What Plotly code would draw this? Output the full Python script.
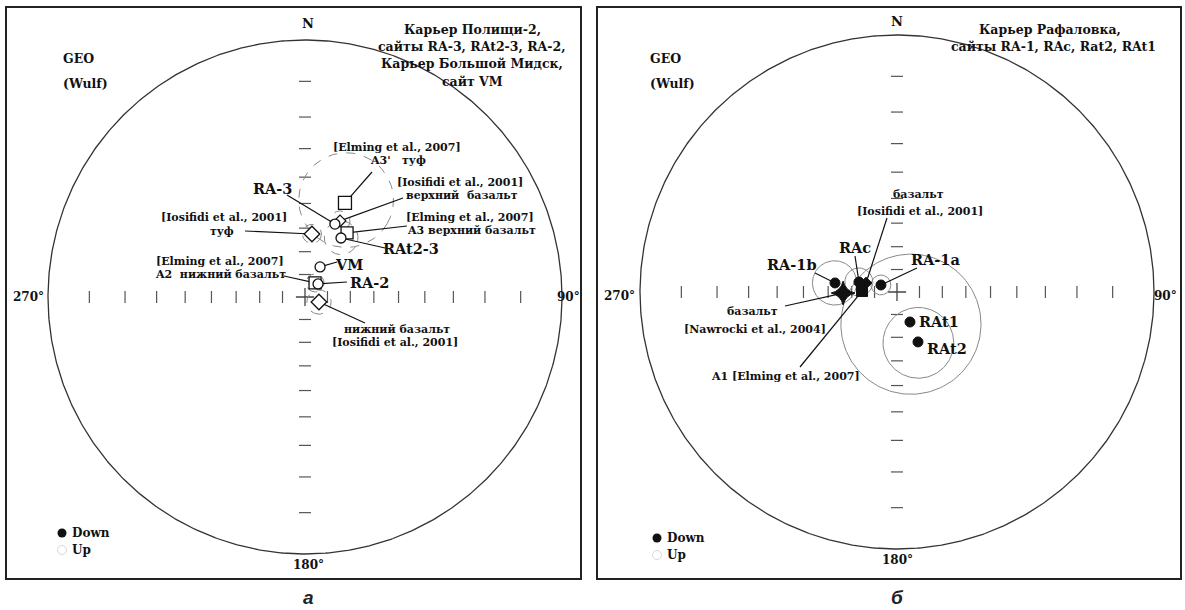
import numpy as np
import plotly.graph_objects as go

W, H = 1185, 610
R_PX = 257.0  # radius of the primitive circle in pixels

# ---------------- data: panel а (Полищи-2 / Большой Мидск); negative inc = upper hemisphere (open symbols)
names_a = ["A3' туф [Elming 2007]", "RA-3", "верхний базальт [Iosifidi 2001]",
           "A3 верхний базальт [Elming 2007]", "RAt2-3", "туф [Iosifidi 2001]",
           "VM", "A2 нижний базальт [Elming 2007]", "RA-2", "нижний базальт [Iosifidi 2001]"]
src_a = ["Elming", "site", "Iosifidi", "Elming", "site", "Iosifidi", "site", "Elming", "site", "Iosifidi"]
dec_a = [23.0, 22.3, 24.7, 33.3, 31.4, 6.3, 26.6, 35.5, 45.0, 109.7]
inc_a = [-46.6, -55.9, -53.9, -56.8, -59.9, -62.3, -75.1, -82.3, -81.8, -83.4]
a95_a = [18.0, 0.0, 4.0, 0.0, 7.0, 4.0, 0.0, 4.0, 0.0, 5.4]

# ---------------- data: panel б (Рафаловка); positive inc = lower hemisphere (filled symbols)
names_b = ["RA-1b", "базальт [Nawrocki 2004]", "RAc", "базальт [Iosifidi 2001]",
           "A1 [Elming 2007]", "RA-1a", "RAt1", "RAt2"]
src_b = ["site", "Nawrocki", "site", "Iosifidi", "Elming", "site", "site", "site"]
dec_b = [278.3, 268.9, 284.7, 286.2, 271.6, 293.6, 156.6, 157.2]
inc_b = [62.6, 66.3, 72.6, 75.7, 74.5, 82.2, 75.5, 66.2]
a95_b = [9.3, 0.0, 6.1, 0.0, 0.0, 4.4, 30.0, 15.0]

tick_incs = [10, 20, 30, 40, 50, 60, 70, 80]
legend_labels = ["Down", "Up"]

# ---------------- layout geometry (pixels in the 1185x610 picture)
PANELS = {
    "a": dict(frame=(7, 8, 580, 578), center=(305, 297), ax=("x", "y")),
    "b": dict(frame=(598, 8, 1180, 578), center=(897, 292), ax=("x2", "y2")),
}

FONT = "DejaVu Serif"


def to_u(panel, px, py):
    cx, cy = PANELS[panel]["center"]
    return (px - cx) / R_PX, (cy - py) / R_PX


def wulff(dec, inc):
    dec = np.radians(np.asarray(dec, float))
    inc = np.radians(np.abs(np.asarray(inc, float)))
    r = np.tan((np.pi / 2 - inc) / 2)
    return r * np.sin(dec), r * np.cos(dec)


def small_circle(dec, inc, alpha, n=181):
    d, i, a = np.radians(dec), np.radians(inc), np.radians(alpha)
    v = np.array([np.cos(i) * np.sin(d), np.cos(i) * np.cos(d), np.sin(i)])  # E, N, Down
    ref = np.array([0, 0, 1.0]) if abs(v[2]) < 0.9 else np.array([1.0, 0, 0])
    u1 = np.cross(v, ref); u1 /= np.linalg.norm(u1)
    u2 = np.cross(v, u1)
    t = np.linspace(0, 2 * np.pi, n)
    p = np.cos(a) * v[:, None] + np.sin(a) * (np.cos(t) * u1[:, None] + np.sin(t) * u2[:, None])
    s = 1.0 if inc >= 0 else -1.0
    den = 1 + s * p[2]
    return p[0] / den, p[1] / den


fig = go.Figure()

# ---------- axes for both panels
for key, P in PANELS.items():
    fx0, fy0, fx1, fy1 = P["frame"]
    cx, cy = P["center"]
    xa = dict(domain=[fx0 / W, fx1 / W], range=[(fx0 - cx) / R_PX, (fx1 - cx) / R_PX],
              showgrid=False, zeroline=False, showticklabels=False, ticks="",
              showline=True, mirror=True, linecolor="#222", linewidth=2, fixedrange=True)
    ya = dict(domain=[1 - fy1 / H, 1 - fy0 / H], range=[(cy - fy1) / R_PX, (cy - fy0) / R_PX],
              showgrid=False, zeroline=False, showticklabels=False, ticks="",
              showline=True, mirror=True, linecolor="#222", linewidth=2, fixedrange=True)
    if key == "a":
        fig.update_layout(xaxis=dict(xa, anchor="y"), yaxis=dict(ya, anchor="x"))
    else:
        fig.update_layout(xaxis2=dict(xa, anchor="y2"), yaxis2=dict(ya, anchor="x2"))

# ---------- primitive circle, ticks, centre cross
th = np.linspace(0, 2 * np.pi, 721)
tr = np.tan(np.radians(90 - np.array(tick_incs)) / 2)
h = 6 / R_PX
for key, P in PANELS.items():
    xn, yn = P["ax"]
    fig.add_trace(go.Scatter(x=np.cos(th), y=np.sin(th), mode="lines", xaxis=xn, yaxis=yn,
                             line=dict(color="#333", width=1.3), hoverinfo="skip", showlegend=False))
    tx, ty = [], []
    for r in tr:
        for sgn in (-1, 1):
            tx += [sgn * r, sgn * r, None]; ty += [-h, h, None]
            tx += [-h, h, None]; ty += [sgn * r, sgn * r, None]
    fig.add_trace(go.Scatter(x=tx, y=ty, mode="lines", xaxis=xn, yaxis=yn,
                             line=dict(color="#555", width=1.2), hoverinfo="skip", showlegend=False))
    fig.add_trace(go.Scatter(x=[0], y=[0], mode="markers", xaxis=xn, yaxis=yn,
                             marker=dict(symbol="cross-thin", size=13, line=dict(color="#444", width=1.3)),
                             hoverinfo="skip", showlegend=False))

# ---------- confidence circles
for dec, inc, a in zip(dec_a, inc_a, a95_a):
    if a > 0:
        cx_, cy_ = small_circle(dec, inc, a)
        fig.add_trace(go.Scatter(x=cx_, y=cy_, mode="lines", xaxis="x", yaxis="y",
                                 line=dict(color="#888", width=1, dash="dash"), hoverinfo="skip", showlegend=False))
for dec, inc, a in zip(dec_b, inc_b, a95_b):
    if a > 0:
        cx_, cy_ = small_circle(dec, inc, a)
        fig.add_trace(go.Scatter(x=cx_, y=cy_, mode="lines", xaxis="x2", yaxis="y2",
                                 line=dict(color="#888", width=1), hoverinfo="skip", showlegend=False))

xa_, ya_ = wulff(dec_a, inc_a)
xb_, yb_ = wulff(dec_b, inc_b)

# ---------- leader lines (start = label side, end = data point)
leaders_a = [(372, 172, 0), (403, 198, 2), (407, 226, 3), (287, 195, 1), (385, 248, 4),
             (245, 231, 5), (284, 276, 7), (337, 262, 6), (347, 282, 8), (365, 323, 9)]
leaders_b = [(887, 218, 3), (855, 256, 2), (815, 273, 0), (917, 268, 5), (785, 306, 1), (800, 367, 4)]
for panel, leaders, X, Y in (("a", leaders_a, xa_, ya_), ("b", leaders_b, xb_, yb_)):
    lx, ly = [], []
    for px, py, k in leaders:
        u, v = to_u(panel, px, py)
        lx += [u, X[k], None]; ly += [v, Y[k], None]
    xn, yn = PANELS[panel]["ax"]
    fig.add_trace(go.Scatter(x=lx, y=ly, mode="lines", xaxis=xn, yaxis=yn,
                             line=dict(color="#111", width=1.2), hoverinfo="skip", showlegend=False))

# ---------- data symbols (literature diamonds first, then squares, then sites on top)
open_sym = {"site": ("circle", 10), "Elming": ("square", 12), "Iosifidi": ("diamond", 12)}
fill_sym = {"site": ("circle", 10), "Elming": ("square", 11), "Iosifidi": ("diamond", 9),
            "Nawrocki": ("star-diamond", 17)}
draw_order = {"Iosifidi": 0, "Nawrocki": 1, "Elming": 2, "site": 3}
for k in sorted(range(len(names_a)), key=lambda i: draw_order[src_a[i]]):
    s, sz = open_sym[src_a[k]]
    if k == 0:
        sz = 13
    if k == 2:
        sz = 9
    fig.add_trace(go.Scatter(x=[xa_[k]], y=[ya_[k]], mode="markers", xaxis="x", yaxis="y",
                             name=names_a[k], showlegend=False,
                             marker=dict(symbol=s, size=sz, color="white", line=dict(color="#111", width=1.3))))
for k in sorted(range(len(names_b)), key=lambda i: draw_order[src_b[i]]):
    s, sz = fill_sym[src_b[k]]
    fig.add_trace(go.Scatter(x=[xb_[k]], y=[yb_[k]], mode="markers", xaxis="x2", yaxis="y2",
                             name=names_b[k], showlegend=False,
                             marker=dict(symbol=s, size=sz, color="#111", line=dict(color="#111", width=1))))

# ---------- text
ann = []


def txt(panel, s, px, py, size=11, bold=True, anchor="center", color="#111", family=FONT):
    u, v = to_u(panel, px, py)
    xn, yn = PANELS[panel]["ax"]
    ann.append(dict(x=u, y=v, xref=xn, yref=yn, text=f"<b>{s}</b>" if bold else s, showarrow=False,
                    xanchor=anchor, yanchor="middle", font=dict(family=family, size=size, color=color)))


# ---------- legends (Down / Up) drawn as swatches + text
for panel, (lx, ly) in (("a", (62, 533)), ("b", (657, 538))):
    xn, yn = PANELS[panel]["ax"]
    u0, v0 = to_u(panel, lx, ly)
    u1, v1 = to_u(panel, lx, ly + 17)
    fig.add_trace(go.Scatter(x=[u0], y=[v0], mode="markers", xaxis=xn, yaxis=yn, showlegend=False,
                             hoverinfo="skip", marker=dict(symbol="circle", size=9, color="#111")))
    fig.add_trace(go.Scatter(x=[u1], y=[v1], mode="markers", xaxis=xn, yaxis=yn, showlegend=False,
                             hoverinfo="skip", marker=dict(symbol="circle", size=9, color="white",
                                                          line=dict(color="#d8d8d8", width=1))))
    txt(panel, legend_labels[0], lx + 8, ly, 12, anchor="left")
    txt(panel, legend_labels[1], lx + 8, ly + 17, 12, anchor="left")

# panel а
txt("a", "N", 308, 24, 13)
txt("a", "270°", 28, 297, 12)
txt("a", "90°", 568, 297, 12)
txt("a", "180°", 308, 565, 12)
txt("a", "GEO", 61, 59, 12.5, anchor="left")
txt("a", "(Wulf)", 61, 84, 12.5, anchor="left")
for s, y in (("Карьер Полищи-2,", 30), ("сайты RA-3, RAt2-3, RA-2,", 47),
             ("Карьер Большой Мидск,", 64), ("сайт VM", 82)):
    txt("a", s, 472, y, 12.5)
txt("a", "[Elming et al., 2007]", 397, 148)
txt("a", "A3'   туф", 398, 161)
txt("a", "[Iosifidi et al., 2001]", 460, 183)
txt("a", "верхний  базальт", 462, 196)
txt("a", "[Elming et al., 2007]", 470, 218)
txt("a", "A3 верхний базальт", 471, 231)
txt("a", "RA-3", 272, 189, 14.5)
txt("a", "RAt2-3", 411, 249, 14.5)
txt("a", "[Iosifidi et al., 2001]", 224, 218)
txt("a", "туф", 222, 232)
txt("a", "[Elming et al., 2007]", 220, 262)
txt("a", "A2  нижний базальт", 220, 275)
txt("a", "VM", 349, 265, 14.5)
txt("a", "RA-2", 369, 283, 14.5)
txt("a", "нижний базальт", 397, 330)
txt("a", "[Iosifidi et al., 2001]", 395, 343)

# panel б
txt("b", "N", 897, 22, 13)
txt("b", "270°", 619, 296, 12)
txt("b", "90°", 1165, 296, 12)
txt("b", "180°", 897, 560, 12)
txt("b", "GEO", 648, 59, 12.5, anchor="left")
txt("b", "(Wulf)", 648, 84, 12.5, anchor="left")
txt("b", "Карьер Рафаловка,", 1050, 30, 12.5)
txt("b", "сайты RA-1, RAc, Rat2, RAt1", 1053, 47, 12.5)
txt("b", "базальт", 918, 195)
txt("b", "[Iosifidi et al., 2001]", 920, 212)
txt("b", "RAc", 855, 248, 14.5)
txt("b", "RA-1b", 792, 265, 14.5)
txt("b", "RA-1a", 935, 260, 14.5)
txt("b", "базальт", 752, 312)
txt("b", "[Nawrocki et al., 2004]", 755, 330)
txt("b", "A1 [Elming et al., 2007]", 785, 377)
txt("b", "RAt1", 939, 322, 14.5)
txt("b", "RAt2", 947, 349, 14.5)

# sub-figure letters
for s, px in (("а", 308), ("б", 897)):
    ann.append(dict(x=px / W, y=1 - 597 / H, xref="paper", yref="paper", showarrow=False,
                    text=f"<b><i>{s}</i></b>", xanchor="center", yanchor="middle",
                    font=dict(family="Liberation Sans", size=19, color="#222")))

fig.update_layout(annotations=ann, width=W, height=H, margin=dict(l=0, r=0, t=0, b=0),
                  plot_bgcolor="white", paper_bgcolor="white", showlegend=False)

fig.write_html("out.html", config={"displayModeBar": False},
               post_script="document.body.style.margin='0px';document.body.style.overflow='hidden';")
